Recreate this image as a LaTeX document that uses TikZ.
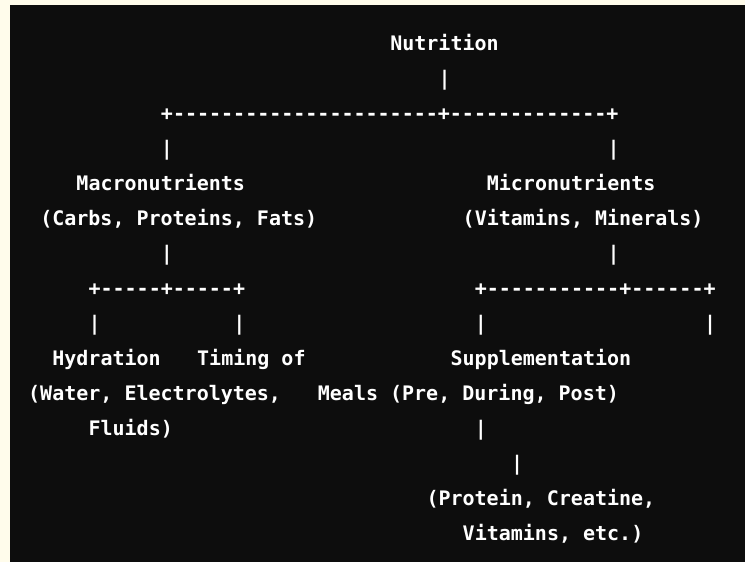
\documentclass[tikz,border=0pt]{standalone}
\usepackage{fontspec}
\setmonofont{DejaVu Sans Mono}
\usepackage{xcolor}
\usepackage{tikz}
\definecolor{paper}{HTML}{FFFCEB}
\definecolor{board}{HTML}{0D0D0D}
\begin{document}
\begin{tikzpicture}[x=1pt,y=-1pt,
    txt/.style={anchor=base west, inner sep=0pt, text=white, xshift=2pt,
      font=\ttfamily\bfseries\fontsize{20}{24}\selectfont}]
            \fill [paper] (0,0) rectangle (745,562);
            \fill [board] (10,5) rectangle (745,562);
            \useasboundingbox (0,0) rectangle (745,562);
            \node [txt] (nutr) at (388.1,50) {Nutrition};
            \node [txt] (bartop) at (436.38,85) {|};
            \node [txt] (split) at (158.77,120) {+----------------------+-------------+};
            \node [txt] (barmacA) at (158.77,155) {|};
            \node [txt] (barmicA) at (605.36,155) {|};
            \node [txt] (macro) at (74.28,190) {Macronutrients};
            \node [txt] (micro) at (484.66,190) {Micronutrients};
            \node [txt] (macroex) at (38.07,225) {(Carbs, Proteins, Fats)};
            \node [txt] (microex) at (460.52,225) {(Vitamins, Minerals)};
            \node [txt] (barmacB) at (158.77,260) {|};
            \node [txt] (barmicB) at (605.36,260) {|};
            \node [txt] (splitmac) at (86.35,295) {+-----+-----+};
            \node [txt] (splitmic) at (472.59,295) {+-----------+------+};
            \node [txt] (barhydr) at (86.35,330) {|};
            \node [txt] (bartime) at (231.19,330) {|};
            \node [txt] (barsupp) at (472.59,330) {|};
            \node [txt] (barend) at (701.92,330) {|};
            \node [txt] (hydr) at (50.14,365) {Hydration};
            \node [txt] (timing) at (194.98,365) {Timing of};
            \node [txt] (supp) at (448.45,365) {Supplementation};
            \node [txt] (hydrex) at (26,400) {(Water, Electrolytes,};
            \node [txt] (timingex) at (315.68,400) {Meals (Pre, During, Post)};
            \node [txt] (hydrexB) at (86.35,435) {Fluids)};
            \node [txt] (barsuppA) at (472.59,435) {|};
            \node [txt] (barsuppB) at (508.8,470) {|};
            \node [txt] (suppex) at (424.31,505) {(Protein, Creatine,};
            \node [txt] (suppexB) at (460.52,540) {Vitamins, etc.)};
        \end{tikzpicture}
\end{document}
